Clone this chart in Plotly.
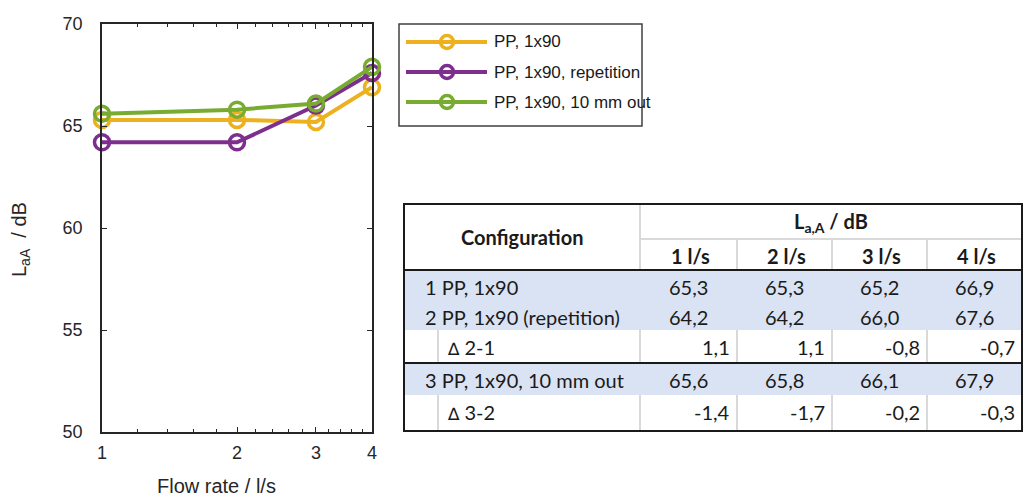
import plotly.graph_objects as go

# ---------------- data ----------------
flow = [1, 2, 3, 4]
series_names = ["PP, 1x90", "PP, 1x90, repetition", "PP, 1x90, 10 mm out"]
pp_1x90 = [65.3, 65.3, 65.2, 66.9]
pp_1x90_rep = [64.2, 64.2, 66.0, 67.6]
pp_1x90_10mm = [65.6, 65.8, 66.1, 67.9]
colors = ["#EDB120", "#7E2F8E", "#77AC30"]

x_ticks = [1, 2, 3, 4]
x_minor = [1.2, 1.4, 1.6, 1.8, 2.2, 2.4, 2.6, 2.8, 3.2, 3.4, 3.6, 3.8]
y_ticks = [50, 55, 60, 65, 70]

table_cols = ["1 l/s", "2 l/s", "3 l/s", "4 l/s"]
row_labels = ["1 PP, 1x90", "2 PP, 1x90 (repetition)", "\u2206 2-1",
              "3 PP, 1x90, 10 mm out", "\u2206 3-2"]
delta_21 = [1.1, 1.1, -0.8, -0.7]
delta_32 = [-1.4, -1.7, -0.2, -0.3]
table_rows = [pp_1x90, pp_1x90_rep, delta_21, pp_1x90_10mm, delta_32]
row_is_delta = [False, False, True, False, True]

# ---------------- geometry helpers ----------------
W, H = 1030, 497
L, R, T, B = 102, 372, 24, 432


def px(x):
    return (x - L) / (R - L)


def py(y):
    return (B - y) / (B - T)


fig = go.Figure()
series = [pp_1x90, pp_1x90_rep, pp_1x90_10mm]
for name, vals, c in zip(series_names, series, colors):
    fig.add_trace(go.Scatter(
        x=flow, y=vals, name=name, mode="lines+markers",
        line=dict(color=c, width=4),
        marker=dict(symbol="circle-open", size=15, color=c, line=dict(width=3.5, color=c)),
        showlegend=False, cliponaxis=False,
    ))

axis_col = "#262626"
fig.update_layout(
    width=W, height=H,
    margin=dict(l=L, r=W - R, t=T, b=H - B, autoexpand=False),
    paper_bgcolor="white", plot_bgcolor="white",
    font=dict(family="Liberation Sans, Arial", color=axis_col),
    xaxis=dict(type="log", range=[0, 0.60206], tickmode="array", tickvals=x_ticks,
               ticktext=[str(v) for v in x_ticks],
               ticks="inside", ticklen=5, tickwidth=1, tickcolor=axis_col,
               showline=True, linecolor=axis_col, linewidth=1.5, mirror="ticks",
               showgrid=False, zeroline=False, tickfont=dict(size=18),
               ticklabelstandoff=4,
               minor=dict(tickmode="array", tickvals=x_minor, ticks="inside",
                          ticklen=3, tickcolor=axis_col, showgrid=False)),
    yaxis=dict(range=[50, 70], tickmode="array", tickvals=y_ticks,
               ticks="inside", ticklen=5, tickwidth=1, tickcolor=axis_col,
               showline=True, linecolor=axis_col, linewidth=1.5, mirror="ticks",
               showgrid=False, zeroline=False, tickfont=dict(size=18),
               ticklabelstandoff=14),
)

ann = []
shapes = []


def text(x, y, s, size, family, color, xanchor="center", angle=0):
    ann.append(dict(x=px(x), y=py(y), xref="paper", yref="paper", text=s,
                    xanchor=xanchor, yanchor="middle", showarrow=False,
                    textangle=angle,
                    font=dict(size=size, family=family, color=color)))


# axis titles
text(216, 486, "Flow rate / l/s", 20, "Liberation Sans, Arial", axis_col)
text(20, 240, "L<sub>aA</sub>  / dB", 20, "Liberation Sans, Arial", axis_col, angle=-90)

# ---------------- custom legend ----------------
shapes.append(dict(type="rect", xref="paper", yref="paper",
                   x0=px(399), x1=px(642), y0=py(24), y1=py(126),
                   line=dict(color="#404040", width=1.5), fillcolor="white"))
leg_y = [42, 72, 102]
for name, c, yy in zip(series_names, colors, leg_y):
    shapes.append(dict(type="line", xref="paper", yref="paper",
                       x0=px(406), x1=px(487), y0=py(yy), y1=py(yy),
                       line=dict(color=c, width=4)))
    shapes.append(dict(type="circle", xref="paper", yref="paper",
                       x0=px(447 - 6.5), x1=px(447 + 6.5), y0=py(yy - 6.5), y1=py(yy + 6.5),
                       line=dict(color=c, width=3.5)))
    text(492, yy, name, 17, "Liberation Sans, Arial", "#1a1a1a", xanchor="left")

# ---------------- table ----------------
tf = "Lato, Carlito, Calibri, sans-serif"
tcol = "#1a1a1a"
ts = 20
tx0, tx1 = 404, 1022
col_edges = [640, 737, 832, 927, 1022]
sub_edge = 438
ty_top, ty_mid, ty_head = 204, 239, 270
row_edges = [270, 300, 330, 363, 395, 431]
row_centers = [287, 317, 347, 380, 412]
blue = "#DAE3F3"
grey = "#D9D9D9"
dark = "#1a1a1a"

# blue fills
shapes.append(dict(type="rect", xref="paper", yref="paper", layer="below",
                   x0=px(tx0), x1=px(tx1), y0=py(270), y1=py(330),
                   fillcolor=blue, line=dict(width=0)))
shapes.append(dict(type="rect", xref="paper", yref="paper", layer="below",
                   x0=px(tx0), x1=px(tx1), y0=py(363), y1=py(395),
                   fillcolor=blue, line=dict(width=0)))


def hline(y, x0, x1, color, w):
    shapes.append(dict(type="line", xref="paper", yref="paper",
                       x0=px(x0), x1=px(x1), y0=py(y), y1=py(y),
                       line=dict(color=color, width=w)))


def vline(x, y0, y1, color, w):
    shapes.append(dict(type="line", xref="paper", yref="paper",
                       x0=px(x), x1=px(x), y0=py(y0), y1=py(y1),
                       line=dict(color=color, width=w)))


# grey inner lines
hline(ty_mid, col_edges[0], tx1, grey, 2)
vline(col_edges[0], ty_top, ty_head, grey, 2)
for xe in col_edges[1:4]:
    vline(xe, ty_mid, ty_head, grey, 2)
for ri, isd in enumerate(row_is_delta):
    if isd:
        y0, y1 = row_edges[ri], row_edges[ri + 1]
        for xe in [sub_edge] + col_edges[:4]:
            vline(xe, y0, y1, grey, 2)

# dark lines
hline(ty_head, tx0, tx1, dark, 2)
hline(363, tx0, tx1, dark, 2)
shapes.append(dict(type="rect", xref="paper", yref="paper",
                   x0=px(tx0), x1=px(tx1), y0=py(ty_top), y1=py(row_edges[-1]),
                   line=dict(color=dark, width=2)))

# header text
text((tx0 + col_edges[0]) / 2, 237, "<b>Configuration</b>", ts, tf, tcol)
text((col_edges[0] + tx1) / 2, 222, "<b>L<sub>a,A</sub> / dB</b>", ts, tf, tcol)
for i, c in enumerate(table_cols):
    text((col_edges[i] + col_edges[i + 1]) / 2 + 2, 256, "<b>" + c + "</b>", ts, tf, tcol)

# body text
for ri, (lab, vals, isd) in enumerate(zip(row_labels, table_rows, row_is_delta)):
    yc = row_centers[ri]
    if isd:
        sym, rest = lab.split(" ", 1)
        lab_html = ("<span style='font-family:DejaVu Sans;font-size:17px'>" + sym +
                    "</span> " + rest)
        text(445, yc, lab_html, ts, tf, tcol, xanchor="left")
    else:
        text(423, yc, lab, ts, tf, tcol, xanchor="left")
    for ci, v in enumerate(vals):
        s = f"{v:.1f}".replace(".", ",")
        if isd:
            text(col_edges[ci + 1] - 5, yc, s, ts, tf, tcol, xanchor="right")
        else:
            text((col_edges[ci] + col_edges[ci + 1]) / 2, yc, s, ts, tf, tcol)

fig.update_layout(annotations=ann, shapes=shapes)
fig.write_html("out.html", config={"displayModeBar": False},
               post_script="document.body.style.margin='0px';")
